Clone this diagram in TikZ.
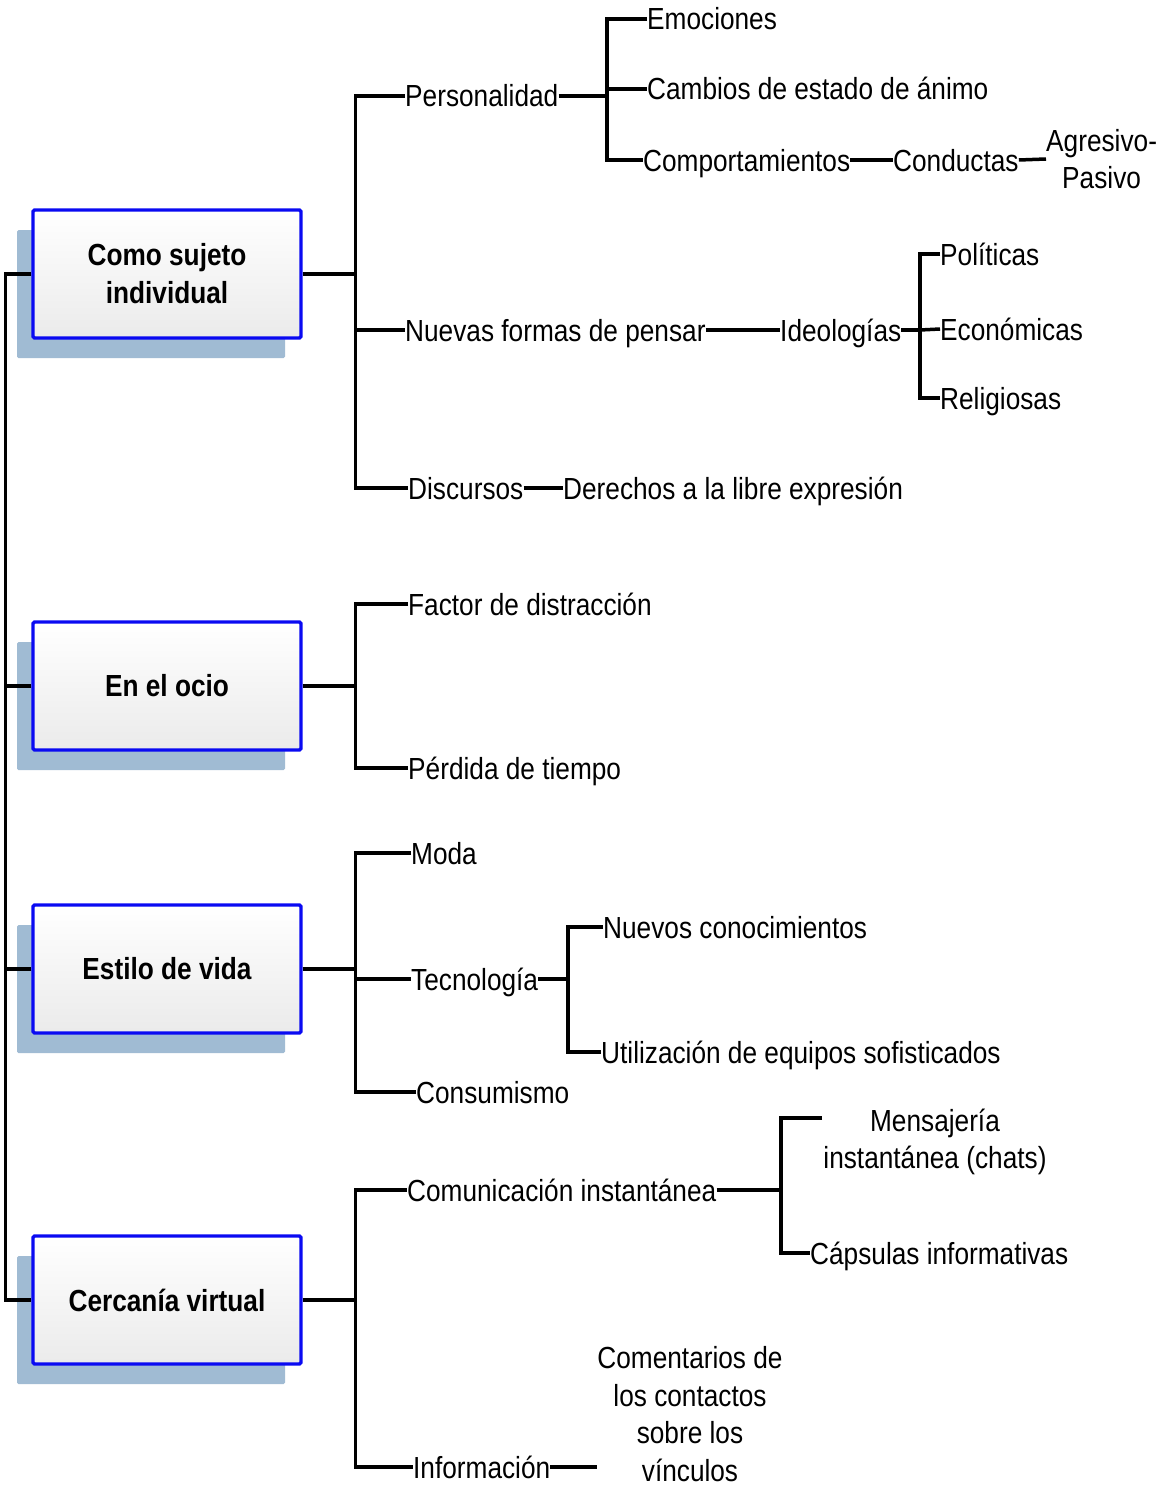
\documentclass[tikz,border=0pt]{standalone}
\usepackage{fontspec}
\setmainfont{Liberation Sans}[FakeStretch=0.86]
\usepackage{xcolor}
\usetikzlibrary{shadows,calc}
\definecolor{shadowblue}{HTML}{A0BBD3}
\definecolor{boxblue}{HTML}{0A0AF2}

\begin{document}
\begin{tikzpicture}[
    x=1pt, y=-1pt,
    box/.style={draw=boxblue, line width=3.3pt, rounded corners=1.5pt, top color=white, bottom color=black!8,
      minimum width=268pt, minimum height=128pt, align=center,
      font=\fontsize{30.5}{38}\selectfont\bfseries,
      drop shadow={shadow xshift=-16pt, shadow yshift=-20pt, fill=shadowblue, opacity=1}},
    lbl/.style={inner sep=0pt, anchor=west, text height=22pt, text depth=0pt, font=\fontsize{30.5}{37.5}\selectfont},
    mlbl/.style={inner sep=0pt, align=center, font=\fontsize{30.5}{37.5}\selectfont},
    conn/.style={line width=3.5pt, line join=miter}
  ]
    \useasboundingbox (0,0) rectangle (1161,1485);

    % main boxes
    \node[box] (suj) at (167,274) {Como sujeto\\individual};
    \node[box] (ocio) at (167,686) {En el ocio};
    \node[box] (vida) at (167,969) {Estilo de vida};
    \node[box] (virt) at (167,1300) {Cercanía virtual};

    \draw[conn] (suj.west) -- ++(-26,0) |- (virt.west);
    \draw[conn] (ocio.west) -- ++(-26,0);
    \draw[conn] (vida.west) -- ++(-26,0);

    % como sujeto individual
    \node[lbl] (pers) at (405,96) {Personalidad};
    \node[lbl] (emoc) at (647,19) {Emociones};
    \node[lbl] (camb) at (647,89) {Cambios de estado de ánimo};
    \node[lbl] (comp) at (643,160) {Comportamientos};
    \node[lbl] (cond) at (893,160) {Conductas};
    \node[mlbl, anchor=west] (agres) at (1046,159) {Agresivo-\\Pasivo};
    \node[lbl] (nuev) at (405,330) {Nuevas formas de pensar};
    \node[lbl] (ideo) at (780,330) {Ideologías};
    \node[lbl] (poli) at (940,254) {Políticas};
    \node[lbl] (econ) at (940,329) {Económicas};
    \node[lbl] (reli) at (940,398) {Religiosas};
    \node[lbl] (disc) at (408,488) {Discursos};
    \node[lbl] (dere) at (563,488) {Derechos a la libre expresión};

    \draw[conn] (suj.east) -- ++(53,0) coordinate (s1);
    \draw[conn] (pers.west) -| (s1) |- (disc.west);
    \draw[conn] (s1) |- (nuev.west);
    \coordinate (s2) at (607,96);
    \draw[conn] (pers.east) -- (s2);
    \draw[conn] (emoc.west) -| (s2) |- (comp.west);
    \draw[conn] (s2) |- (camb.west);
    \draw[conn] (comp.east) -- (cond.west);
    \draw[conn] (cond.east) -- (agres.west);
    \draw[conn] (nuev.east) -- (ideo.west);
    \coordinate (s3) at (920,330);
    \draw[conn] (ideo.east) -- (s3);
    \draw[conn] (poli.west) -| (s3) |- (reli.west);
    \draw[conn] (s3) -- (econ.west);
    \draw[conn] (disc.east) -- (dere.west);

    % en el ocio
    \node[lbl] (fact) at (408,604) {Factor de distracción};
    \node[lbl] (perd) at (408,768) {Pérdida de tiempo};

    \draw[conn] (ocio.east) -- ++(53,0) coordinate (s4);
    \draw[conn] (fact.west) -| (s4) |- (perd.west);

    % estilo de vida
    \node[lbl] (moda) at (411,853) {Moda};
    \node[lbl] (tecn) at (411,979) {Tecnología};
    \node[lbl] (cons) at (416,1092) {Consumismo};
    \node[lbl] (conoc) at (603,927) {Nuevos conocimientos};
    \node[lbl] (equip) at (601,1052) {Utilización de equipos sofisticados};

    \draw[conn] (vida.east) -- ++(53,0) coordinate (s5);
    \draw[conn] (moda.west) -| (s5) |- (cons.west);
    \draw[conn] (s5) |- (tecn.west);
    \coordinate (s6) at (568,979);
    \draw[conn] (tecn.east) -- (s6);
    \draw[conn] (conoc.west) -| (s6) |- (equip.west);

    % cercania virtual
    \node[lbl] (comu) at (407,1190) {Comunicación instantánea};
    \node[mlbl] (mens) at (935,1142) {Mensajería\\instantánea (chats)};
    \node[lbl] (caps) at (810,1253) {Cápsulas informativas};
    \node[lbl] (info) at (413,1467) {Información};
    \node[mlbl] (coment) at (690,1414) {Comentarios de\\los contactos\\sobre los\\vínculos};

    \draw[conn] (virt.east) -- ++(53,0) coordinate (s7);
    \draw[conn] (comu.west) -| (s7) |- (info.west);
    \coordinate (s8) at (781,1190);
    \coordinate (mtip) at (822,1118);
    \draw[conn] (comu.east) -- (s8);
    \draw[conn] (mtip) -| (s8) |- (caps.west);
    \coordinate (ctip) at (597,1467);
    \draw[conn] (info.east) -- (ctip);
  \end{tikzpicture}
\end{document}
